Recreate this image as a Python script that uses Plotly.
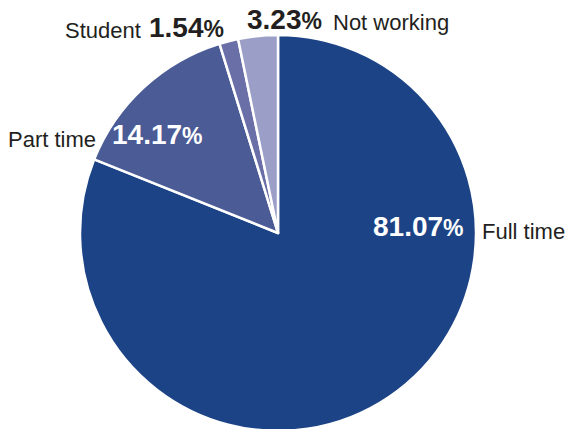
import plotly.graph_objects as go

# Employment status shares (percent)
categories = ["Full time", "Part time", "Student", "Not working"]
shares = [81.07, 14.17, 1.54, 3.23]
slice_colors = ["#1b4386", "#4a5b96", "#6a70a7", "#9b9ec7"]

W, H = 567, 440
CX, CY, R = 278, 233, 198  # pie centre / radius in pixels (from top-left)

fig = go.Figure(
    go.Pie(
        labels=categories,
        values=shares,
        sort=False,
        direction="clockwise",
        rotation=0,
        textinfo="none",
        hoverinfo="label+percent",
        marker=dict(colors=slice_colors, line=dict(color="white", width=2.5)),
        domain=dict(
            x=[(CX - R) / W, (CX + R) / W],
            y=[(H - CY - R) / H, (H - CY + R) / H],
        ),
    )
)


def pct_text(v):
    return f"<b>{v:.2f}</b><span style='font-size:23px'><b>%</b></span>"


# label placement: (value x, value y, name x, name y, value colour)
label_layout = {
    "Full time": (371, 227, 480, 231, "white"),
    "Part time": (110, 135, 6, 139, "white"),
    "Student": (147, 28, 63, 31, "#231f20"),
    "Not working": (245, 19, 331, 22, "#231f20"),
}

annotations = []
for name, v in zip(categories, shares):
    vx, vy, nx, ny, vcol = label_layout[name]
    annotations.append(dict(
        x=vx / W, y=(H - vy) / H, xref="paper", yref="paper",
        xanchor="left", yanchor="middle", showarrow=False,
        text=pct_text(v),
        font=dict(family="Liberation Sans", size=28, color=vcol),
    ))
    annotations.append(dict(
        x=nx / W, y=(H - ny) / H, xref="paper", yref="paper",
        xanchor="left", yanchor="middle", showarrow=False,
        text=name,
        font=dict(family="Liberation Sans", size=22, color="#231f20"),
    ))

fig.update_layout(
    width=W,
    height=H,
    margin=dict(l=0, r=0, t=0, b=0),
    paper_bgcolor="white",
    plot_bgcolor="white",
    showlegend=False,
    annotations=annotations,
)

fig.write_html(
    "out.html",
    post_script="document.body.style.overflow='hidden';"
                "document.documentElement.style.overflow='hidden';",
)
